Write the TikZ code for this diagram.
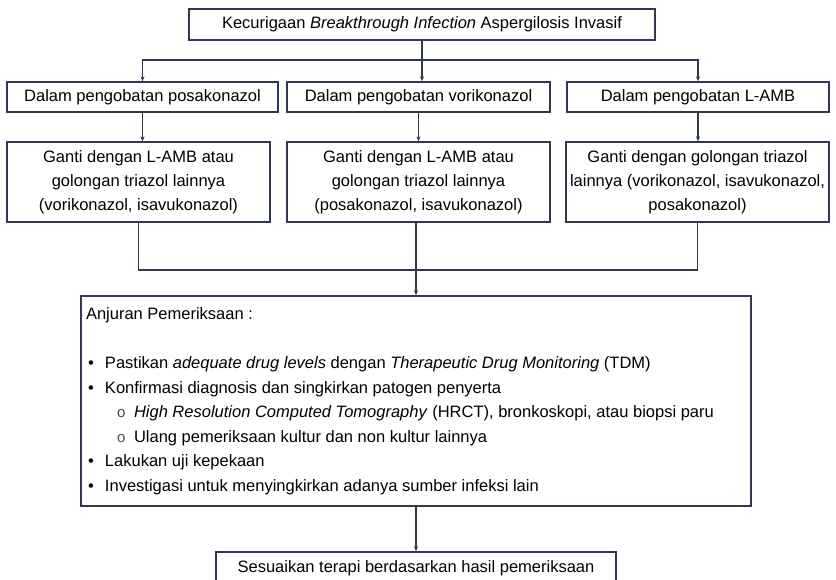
\documentclass[tikz,border=0pt]{standalone}
\usepackage{fontspec}
\setmainfont{Liberation Sans}
\usetikzlibrary{arrows.meta}
\definecolor{boxline}{RGB}{47,56,80}
\newcommand{\itembul}{\makebox[19pt][l]{\hspace{2pt}\textbullet}}
\newcommand{\subitembul}{\makebox[48pt][l]{\hspace{31pt}{\fontsize{15}{15}\selectfont\color{black!70}o}}}

\begin{document}
\begin{tikzpicture}[x=1pt, y=-1pt,
    box/.style ={rectangle, draw=boxline, line width=1.3pt, inner sep=0pt, align=center,
                 font=\fontsize{16.5}{24}\selectfont},
    link/.style ={draw=boxline, line width=1.2pt},
    flow/.style ={link, -{Stealth[length=5pt, width=4pt]}}]
  \useasboundingbox (0,0) rectangle (836,580);

  \node[box] (susp) [minimum width=466pt, minimum height=31pt] at (422,24.5)
    {Kecurigaan \textit{Breakthrough Infection} Aspergilosis Invasif};

  \node[box] (pos) [minimum width=271pt, minimum height=30pt] at (142.5,97) {Dalam pengobatan posakonazol};
  \node[box] (vor) [minimum width=263pt, minimum height=30pt] at (418.5,97) {Dalam pengobatan vorikonazol};
  \node[box] (amb) [minimum width=262pt, minimum height=30pt] at (698,97)   {Dalam pengobatan L-AMB};

  \node[box] (gpos) [minimum width=263pt, minimum height=80pt] at (138.5,182)
    {Ganti dengan L-AMB atau\\golongan triazol lainnya\\(vorikonazol, isavukonazol)};
  \node[box] (gvor) [minimum width=263pt, minimum height=80pt] at (418.5,182)
    {Ganti dengan L-AMB atau\\golongan triazol lainnya\\(posakonazol, isavukonazol)};
  \node[box] (gamb) [minimum width=263pt, minimum height=80pt] at (697.5,182)
    {Ganti dengan golongan triazol\\lainnya (vorikonazol, isavukonazol,\\posakonazol)};

  \node[box, align=left, inner xsep=5pt] (anjuran) at (416,401)
    {\parbox[t][210pt][t]{660pt}{\fontsize{16.5}{24.5}\selectfont\raggedright
      \vspace*{12pt}Anjuran Pemeriksaan :\\[24.5pt]
      \itembul Pastikan \textit{adequate drug levels} dengan \textit{Therapeutic Drug Monitoring} (TDM)\\
      \itembul Konfirmasi diagnosis dan singkirkan patogen penyerta\\
      \subitembul\textit{High Resolution Computed Tomography} (HRCT), bronkoskopi, atau biopsi paru\\
      \subitembul Ulang pemeriksaan kultur dan non kultur lainnya\\
      \itembul Lakukan uji kepekaan\\
      \itembul Investigasi untuk menyingkirkan adanya sumber infeksi lain}};

  \node[box] (terapi) [minimum width=400pt, minimum height=32pt] at (416,568)
    {Sesuaikan terapi berdasarkan hasil pemeriksaan};

  \coordinate (split) at (422,60);
  \coordinate (merge) at (416,270);

  \draw[link] (susp) -- (split);
  \draw[flow] (split) -| (pos);
  \draw[flow] (split) -| (amb);
  \draw[flow] (split) -- (split |- vor.north);

  \draw[flow] (pos.south) -- (pos.south |- gpos.north);
  \draw[flow] (vor.south) -- (vor.south |- gvor.north);
  \draw[flow] (amb.south) -- (amb.south |- gamb.north);

  \draw[link] (gpos) |- (merge) -| (gamb);
  \draw[flow] (gvor.south -| anjuran) -- (anjuran);
  \draw[flow] (anjuran) -- (terapi);
\end{tikzpicture}
\end{document}
